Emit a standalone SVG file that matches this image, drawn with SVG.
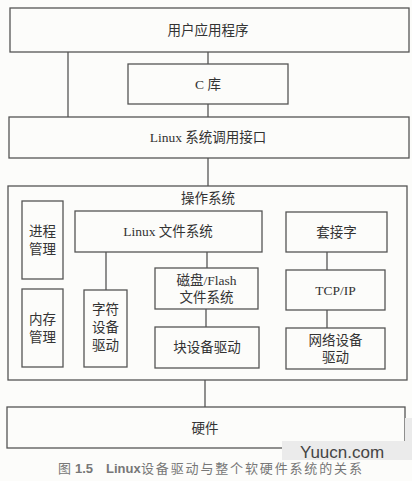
<svg xmlns="http://www.w3.org/2000/svg" width="412" height="481" viewBox="0 0 412 481">
<style>
.b{fill:none;stroke:#555;stroke-width:1.3}
.c{stroke:#555;stroke-width:1.3;fill:none}
.t{font-family:"Liberation Serif","Noto Sans CJK SC",serif;font-size:13.5px;fill:#333;text-anchor:middle}
.cap{font-family:"Liberation Sans","Noto Sans CJK SC",sans-serif;font-size:13px;fill:#777}
</style>
<rect width="412" height="481" fill="#fcfcfa"/>
<g id="connectors">
<line class="c" x1="68" y1="52" x2="68" y2="117"/>
<line class="c" x1="208" y1="52" x2="208" y2="64"/>
<line class="c" x1="208" y1="104" x2="208" y2="117"/>
<line class="c" x1="208" y1="158" x2="208" y2="186"/>
<line class="c" x1="106" y1="252" x2="106" y2="290"/>
<line class="c" x1="207" y1="252" x2="207" y2="268"/>
<line class="c" x1="206" y1="309" x2="206" y2="327"/>
<line class="c" x1="327" y1="252" x2="327" y2="270"/>
<line class="c" x1="327" y1="310" x2="327" y2="328"/>
<line class="c" x1="205" y1="380" x2="205" y2="407"/>
</g>
<g id="app"><rect class="b" x="10" y="8" width="399" height="44"/><text class="t" x="208" y="35">用户应用程序</text></g>
<g id="clib"><rect class="b" x="128" y="64" width="160" height="40"/><text class="t" x="208" y="89">C 库</text></g>
<g id="syscall"><rect class="b" x="9" y="117" width="400" height="41"/><text class="t" x="208" y="142">Linux 系统调用接口</text></g>
<g id="os"><rect class="b" x="8" y="186" width="399" height="194"/><text class="t" x="208" y="203">操作系统</text></g>
<g id="proc"><rect class="b" x="22" y="201" width="41" height="78"/><text class="t" x="42.5" y="236">进程</text><text class="t" x="42.5" y="254">管理</text></g>
<g id="mem"><rect class="b" x="22" y="289" width="41" height="78"/><text class="t" x="42.5" y="324">内存</text><text class="t" x="42.5" y="342">管理</text></g>
<g id="vfs"><rect class="b" x="75" y="211" width="187" height="41"/><text class="t" x="168" y="236">Linux 文件系统</text></g>
<g id="chardrv"><rect class="b" x="84" y="290" width="43" height="77"/><text class="t" x="105.5" y="314">字符</text><text class="t" x="105.5" y="332">设备</text><text class="t" x="105.5" y="350">驱动</text></g>
<g id="flashfs"><rect class="b" x="155" y="268" width="103" height="41"/><text class="t" x="206.5" y="285">磁盘/Flash</text><text class="t" x="206.5" y="302">文件系统</text></g>
<g id="blkdrv"><rect class="b" x="155" y="327" width="104" height="41"/><text class="t" x="207" y="352">块设备驱动</text></g>
<g id="socket"><rect class="b" x="286" y="212" width="101" height="40"/><text class="t" x="336.5" y="237">套接字</text></g>
<g id="tcpip"><rect class="b" x="286" y="270" width="99" height="40"/><text class="t" x="335.5" y="295">TCP/IP</text></g>
<g id="netdrv"><rect class="b" x="286" y="328" width="99" height="41"/><text class="t" x="335.5" y="345">网络设备</text><text class="t" x="335.5" y="362">驱动</text></g>
<g id="hw"><rect class="b" x="7" y="407" width="398" height="41"/><text class="t" x="205" y="433">硬件</text></g>
<rect x="282" y="441" width="130" height="19" fill="#ebebeb"/>
<rect x="405" y="418" width="7" height="30" fill="#ebebeb"/>
<text x="300" y="458" font-family="Liberation Sans,sans-serif" font-size="17" fill="#444">Yuucn.com</text>
<g id="caption">
<text class="cap" x="58" y="473">图</text>
<text class="cap" x="75" y="473" font-weight="bold">1.5</text>
<text class="cap" x="106" y="473" font-weight="bold" font-size="12">Linux</text>
<text class="cap" x="141" y="473" letter-spacing="1.85">设备驱动与整个软硬件系统的关系</text>
</g>
</svg>
